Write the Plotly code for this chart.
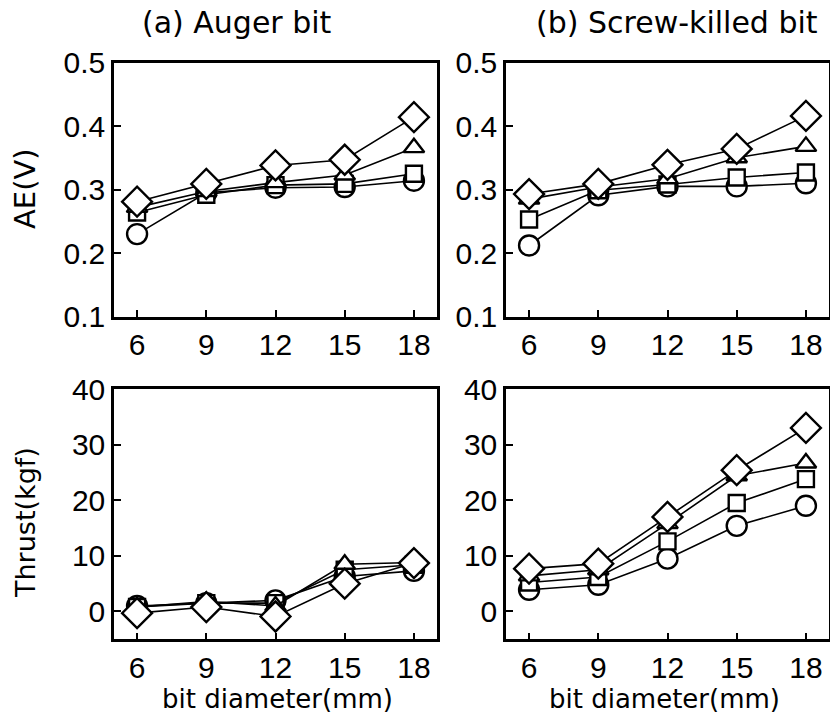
import plotly.graph_objects as go

diam = [6, 9, 12, 15, 18]

# AE (V) - (a) Auger bit
ae_a_circle = [0.230, 0.295, 0.303, 0.304, 0.314]
ae_a_square = [0.264, 0.292, 0.307, 0.309, 0.325]
ae_a_triangle = [0.272, 0.297, 0.311, 0.323, 0.366]
ae_a_diamond = [0.281, 0.309, 0.338, 0.347, 0.414]

# AE (V) - (b) Screw-killed bit
ae_b_circle = [0.212, 0.291, 0.305, 0.305, 0.310]
ae_b_square = [0.253, 0.299, 0.308, 0.319, 0.327]
ae_b_triangle = [0.285, 0.304, 0.317, 0.350, 0.368]
ae_b_diamond = [0.293, 0.309, 0.339, 0.364, 0.416]

# Thrust (kgf) - (a) Auger bit
th_a_circle = [1.0, 1.5, 2.0, 6.3, 7.3]
th_a_square = [0.8, 1.5, 1.5, 7.5, 8.4]
th_a_triangle = [0.8, 1.8, 1.0, 8.5, 8.8]
th_a_diamond = [-0.3, 0.8, -0.9, 5.0, 8.7]

# Thrust (kgf) - (b) Screw-killed bit
th_b_circle = [3.9, 4.8, 9.5, 15.4, 19.0]
th_b_square = [5.2, 6.2, 12.6, 19.5, 23.8]
th_b_triangle = [6.4, 7.5, 15.8, 24.4, 26.7]
th_b_diamond = [7.7, 8.6, 17.0, 25.4, 33.0]

x_ticks = [6, 9, 12, 15, 18]
ae_ticks = [0.1, 0.2, 0.3, 0.4, 0.5]
ae_labels = ["0.1", "0.2", "0.3", "0.4", "0.5"]
th_ticks = [0, 10, 20, 30, 40]

titles = ["(a) Auger bit", "(b) Screw-killed bit"]
ae_title = "AE(V)"
th_title = "Thrust(kgf)"
x_title = "bit diameter(mm)"

W, H = 830, 715
xdoms = [[114 / W, 437 / W], [506 / W, 829 / W]]
ydom_top = [1 - 316.7 / H, 1 - 62.5 / H]
ydom_bot = [1 - 639.3 / H, 1 - 389 / H]

fig = go.Figure()

symbols = ["circle", "square", "triangle-up", "diamond"]
sizes = [20, 16, 18, 23]

panels = [
    ("x", "y", [ae_a_circle, ae_a_square, ae_a_triangle, ae_a_diamond]),
    ("x2", "y2", [ae_b_circle, ae_b_square, ae_b_triangle, ae_b_diamond]),
    ("x3", "y3", [th_a_circle, th_a_square, th_a_triangle, th_a_diamond]),
    ("x4", "y4", [th_b_circle, th_b_square, th_b_triangle, th_b_diamond]),
]

for xa, ya, series in panels:
    for vals, sym, sz in zip(series, symbols, sizes):
        fig.add_trace(go.Scatter(
            x=diam, y=vals, xaxis=xa, yaxis=ya,
            mode="lines+markers",
            line=dict(color="black", width=1.6),
            marker=dict(symbol=sym, size=sz, color="white",
                        line=dict(color="black", width=2.4)),
            showlegend=False, cliponaxis=False,
        ))

tickfont = dict(family="Liberation Sans Narrow, Liberation Sans, Arial, sans-serif",
                size=30, color="black")
common_x = dict(range=[5, 19], tickvals=x_ticks, ticks="inside", ticklen=7, tickwidth=2,
                tickcolor="black", showline=True, linecolor="black", linewidth=2.5,
                mirror=True, showgrid=False, zeroline=False, tickfont=tickfont,
                automargin=False)
common_y = dict(ticks="inside", ticklen=7, tickwidth=2, tickcolor="black",
                showline=True, linecolor="black", linewidth=2.5, mirror=True,
                showgrid=False, zeroline=False, tickfont=tickfont, automargin=False)

fig.update_layout(
    width=W, height=H,
    margin=dict(l=0, r=0, t=0, b=0),
    paper_bgcolor="white", plot_bgcolor="white",
    xaxis=dict(domain=xdoms[0], anchor="y", **common_x),
    xaxis2=dict(domain=xdoms[1], anchor="y2", **common_x),
    xaxis3=dict(domain=xdoms[0], anchor="y3", **common_x),
    xaxis4=dict(domain=xdoms[1], anchor="y4", **common_x),
    yaxis=dict(domain=ydom_top, anchor="x", range=[0.1, 0.5], tickvals=ae_ticks,
               ticktext=ae_labels, **common_y),
    yaxis2=dict(domain=ydom_top, anchor="x2", range=[0.1, 0.5], tickvals=ae_ticks,
                ticktext=ae_labels, **common_y),
    yaxis3=dict(domain=ydom_bot, anchor="x3", range=[-5, 40], tickvals=th_ticks, **common_y),
    yaxis4=dict(domain=ydom_bot, anchor="x4", range=[-5, 40], tickvals=th_ticks, **common_y),
)

fam = "DejaVu Sans, sans-serif"
ann = [
    dict(text=titles[0], x=237 / W, y=1 - 23 / H, font=dict(family=fam, size=30, color="black")),
    dict(text=titles[1], x=677 / W, y=1 - 23 / H, font=dict(family=fam, size=30, color="black")),
    dict(text=ae_title, x=25 / W, y=1 - 189 / H, textangle=-90,
         font=dict(family=fam, size=29, color="black")),
    dict(text=th_title, x=25 / W, y=1 - 523 / H, textangle=-90,
         font=dict(family=fam, size=27, color="black")),
    dict(text=x_title, x=277 / W, y=1 - 699 / H, font=dict(family=fam, size=26, color="black")),
    dict(text=x_title, x=664 / W, y=1 - 699 / H, font=dict(family=fam, size=26, color="black")),
]
for a in ann:
    a.update(xref="paper", yref="paper", showarrow=False, xanchor="center", yanchor="middle")
fig.update_layout(annotations=ann)

fig.write_html("out.html")
